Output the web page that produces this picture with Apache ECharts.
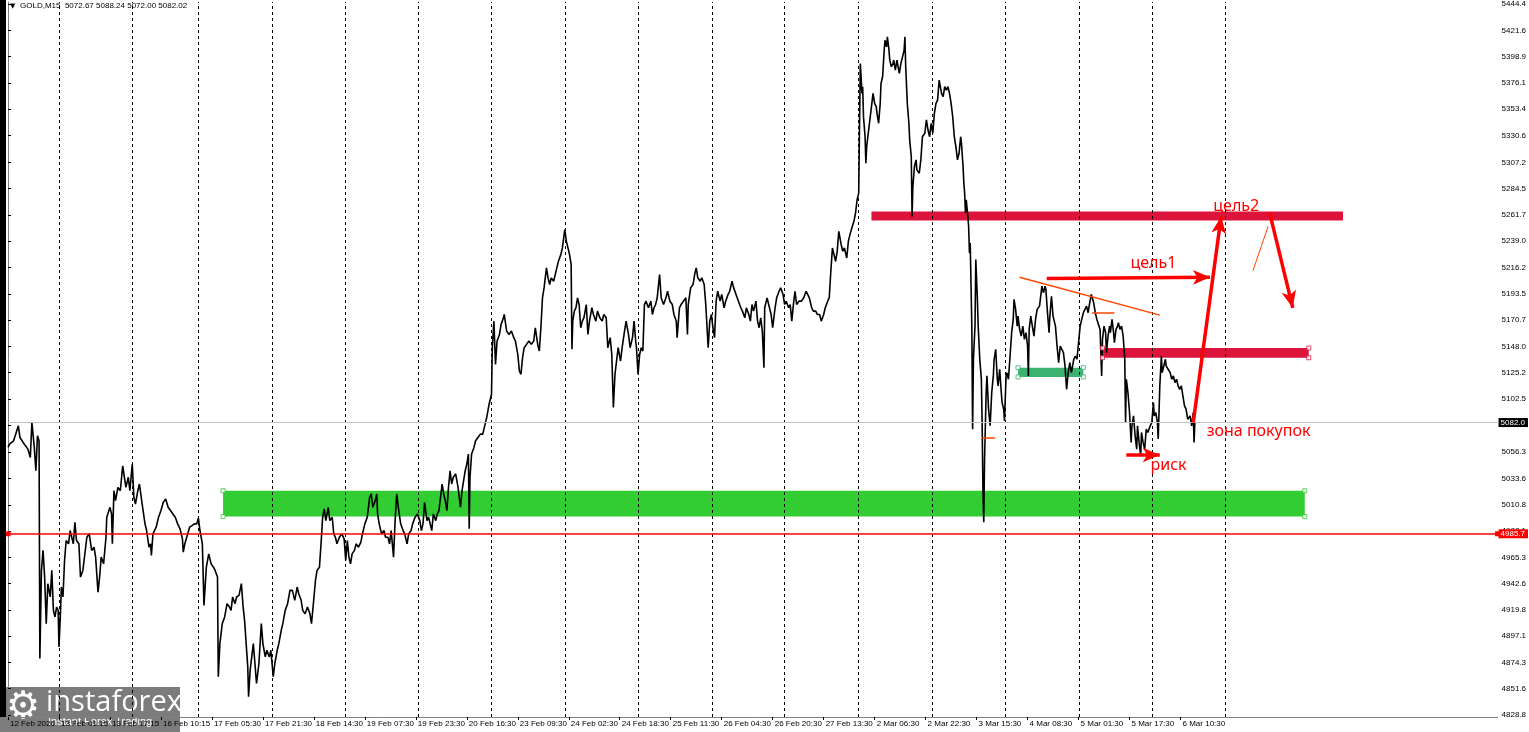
<!DOCTYPE html>
<html><head><meta charset="utf-8">
<script src="https://cdn.jsdelivr.net/npm/echarts@6/dist/echarts.min.js"></script>
<style>html,body{margin:0;padding:0;background:#fff}#c{width:1529px;height:732px}</style>
</head><body><div id="c"></div>
<script>
// ---- DATA (x = M15 bar index from 12 Feb, y = price) ----
const xLabelBars = [0,64,128,192,256,320,384,448,512,576,640,704,768,832,896,960,1024,1088,1152,1216,1280,1344,1408,1472];
const xLabels = ["12 Feb 2026","13 Feb 01:15","13 Feb 17:15","16 Feb 10:15","17 Feb 05:30","17 Feb 21:30","18 Feb 14:30","19 Feb 07:30","19 Feb 23:30","20 Feb 16:30","23 Feb 09:30","24 Feb 02:30","24 Feb 18:30","25 Feb 11:30","26 Feb 04:30","26 Feb 20:30","27 Feb 13:30","2 Mar 06:30","2 Mar 22:30","3 Mar 15:30","4 Mar 08:30","5 Mar 01:30","5 Mar 17:30","6 Mar 10:30"];
const yTicks = [5444.4,5421.6,5398.9,5376.1,5353.4,5330.6,5307.2,5284.5,5261.7,5239.0,5216.2,5193.5,5170.7,5148.0,5125.2,5102.5,5079.7,5056.3,5033.6,5010.8,4988.1,4965.3,4942.6,4919.8,4897.1,4874.3,4851.6,4828.8];
const daySeparators = [64,156,239,332,423,515,607,699,791,884,975,1068,1160,1252,1345,1436,1528];
const priceSeries = [
[0,5060.5],[2,5063.3],[7,5066.2],[11,5074.9],[13,5079.2],[15,5069.1],[19,5064.8],[21,5063.3],[25,5059.0],[28,5051.8],[30,5082.1],[33,5060.5],[35,5040.3],[37,5070.5],[39,5066.2],[40,4877.7],[42,4954.0],[44,4971.3],[46,4948.2],[48,4907.9],[50,4942.5],[53,4931.0],[55,4954.0],[57,4919.4],[59,4913.7],[61,4922.3],[63,4919.4],[64,4887.8],[66,4919.4],[67,4939.6],[69,4931.0],[71,4962.6],[73,4979.9],[76,4977.0],[78,4988.5],[82,4977.0],[84,4995.7],[86,4979.9],[89,4977.0],[91,4948.2],[94,4954.0],[96,4965.5],[99,4982.7],[102,4985.6],[105,4971.3],[108,4974.1],[110,4965.5],[113,4935.2],[115,4948.2],[117,4965.5],[120,4959.7],[123,4982.7],[124,5000.0],[128,5008.6],[130,5002.9],[131,4977.0],[133,5023.0],[135,5014.4],[138,5025.9],[141,5023.0],[144,5044.6],[148,5025.9],[151,5034.6],[153,5023.0],[156,5046.1],[158,5017.3],[160,5011.5],[163,5023.0],[165,5028.8],[167,5030.2],[169,5008.6],[172,4994.3],[174,4988.5],[177,4974.1],[179,4977.0],[180,4966.9],[182,4985.6],[186,4991.4],[189,5000.0],[192,5005.8],[195,5013.0],[198,5015.8],[201,5008.6],[204,5005.8],[207,5002.9],[210,5000.0],[213,4994.3],[216,4989.9],[219,4981.3],[220,4969.8],[222,4977.0],[225,4984.2],[228,4991.4],[231,4992.8],[234,4994.3],[237,4994.3],[239,4999.4],[241,4988.5],[244,4977.0],[246,4923.7],[249,4956.8],[252,4968.3],[255,4959.7],[258,4956.8],[260,4954.0],[263,4948.2],[264,4861.9],[266,4890.6],[269,4907.9],[272,4913.7],[275,4925.2],[278,4922.3],[280,4919.4],[282,4931.0],[285,4925.2],[287,4931.0],[290,4932.4],[293,4942.5],[295,4923.7],[297,4910.8],[299,4890.6],[301,4870.5],[302,4844.6],[304,4867.6],[306,4879.1],[308,4890.6],[310,4873.4],[312,4856.1],[315,4873.4],[318,4907.9],[320,4890.6],[323,4879.1],[325,4884.9],[328,4879.1],[330,4884.9],[333,4861.9],[335,4873.4],[338,4884.9],[340,4890.6],[343,4902.1],[345,4907.9],[348,4919.4],[351,4925.2],[354,4936.7],[357,4936.7],[360,4928.1],[363,4939.6],[365,4933.8],[368,4928.1],[370,4919.4],[373,4916.5],[376,4922.3],[379,4916.5],[381,4907.9],[383,4922.3],[386,4945.3],[388,4954.0],[391,4956.8],[393,4977.0],[395,5000.0],[397,5007.2],[399,4997.1],[402,5008.6],[404,4997.1],[407,5000.0],[409,4985.6],[411,4982.7],[413,4977.0],[416,4982.7],[419,4985.6],[422,4981.3],[424,4962.6],[426,4979.9],[428,4965.5],[430,4959.7],[432,4968.3],[435,4971.3],[437,4977.0],[440,4974.1],[443,4978.4],[445,4985.6],[448,4994.3],[451,5000.0],[454,5017.3],[456,5020.2],[458,5008.6],[461,5014.4],[463,5020.2],[464,5002.9],[466,4994.3],[469,4985.6],[472,4988.5],[474,4982.7],[477,4982.7],[479,4977.0],[481,4988.5],[484,4965.5],[486,4997.1],[488,5020.2],[490,5008.6],[493,4994.3],[496,4988.5],[498,4985.6],[501,4977.0],[503,4985.6],[506,4988.5],[508,4994.3],[511,5000.0],[514,5002.9],[517,4997.1],[519,4988.5],[521,4994.3],[523,5013.0],[526,4997.1],
[528,5000.1],[530,4994.3],[532,4988.5],[534,5002.9],[537,4997.1],[539,5002.9],[541,5005.8],[543,5017.3],[545,5028.8],[547,5020.2],[549,5014.4],[551,5005.8],[553,5025.9],[555,5040.3],[557,5028.8],[559,5034.6],[562,5037.5],[565,5025.9],[568,5008.7],[570,5023.1],[572,5031.7],[574,5040.3],[576,5046.1],[578,5054.7],[579,4990.0],[580,5034.6],[582,5054.7],[585,5060.5],[587,5066.3],[590,5069.1],[593,5072.0],[596,5072.0],[598,5077.8],[601,5086.4],[604,5097.9],[607,5106.5],[608,5146.8],[610,5169.8],[612,5132.4],[614,5152.6],[617,5158.3],[619,5166.9],[622,5172.7],[623,5175.6],[626,5161.2],[629,5158.3],[632,5161.2],[635,5155.5],[637,5152.6],[640,5141.1],[642,5126.7],[644,5123.8],[646,5138.2],[648,5146.8],[651,5149.7],[654,5152.6],[657,5149.7],[660,5152.6],[662,5164.1],[665,5149.7],[667,5143.9],[669,5164.1],[671,5190.0],[673,5198.6],[676,5215.9],[678,5207.3],[680,5201.5],[682,5207.3],[685,5204.4],[687,5210.1],[689,5215.9],[691,5221.6],[694,5227.4],[696,5233.2],[699,5249.0],[701,5238.9],[703,5233.2],[705,5227.4],[707,5218.8],[708,5145.4],[709,5169.8],[711,5178.5],[713,5181.4],[715,5190.0],[717,5184.2],[719,5164.1],[721,5169.8],[723,5172.7],[726,5184.2],[728,5158.3],[730,5169.8],[733,5181.4],[735,5175.6],[738,5169.8],[740,5178.5],[743,5172.7],[746,5169.8],[748,5175.6],[751,5172.7],[753,5146.8],[756,5155.5],[758,5141.1],[760,5095.0],[762,5123.8],[764,5135.3],[766,5146.8],[769,5135.3],[771,5146.8],[774,5161.2],[776,5169.8],[779,5158.3],[781,5146.8],[784,5155.5],[786,5169.8],[788,5152.6],[789,5146.8],[791,5123.8],[793,5141.1],[795,5146.8],[797,5143.9],[799,5184.2],[801,5187.1],[804,5181.4],[807,5187.1],[809,5175.6],[811,5181.4],[813,5184.2],[815,5190.0],[818,5210.1],[820,5190.0],[823,5184.2],[826,5190.0],[828,5195.7],[831,5187.1],[834,5184.2],[836,5175.6],[839,5169.8],[840,5155.5],[843,5181.4],[845,5184.2],[848,5187.1],[851,5190.0],[853,5158.3],[854,5184.2],[857,5198.6],[860,5201.5],[862,5210.1],[864,5215.9],[866,5207.3],[869,5204.4],[871,5207.3],[874,5201.5],[876,5184.2],[879,5146.8],[881,5169.8],[883,5175.6],[885,5164.1],[887,5155.5],[889,5187.1],[891,5195.7],[894,5187.1],[896,5192.9],[899,5181.4],[901,5187.1],[904,5192.9],[906,5195.7],[909,5204.4],[911,5198.6],[914,5192.9],[917,5187.1],[920,5181.4],[922,5178.5],[925,5172.7],[927,5181.4],[930,5175.6],[932,5169.8],[934,5184.2],[936,5178.5],[939,5187.1],[941,5169.8],[943,5164.1],[945,5172.7],[947,5161.2],[949,5129.5],[950,5181.4],[953,5190.0],[955,5184.2],[958,5175.6],[960,5164.1],[963,5181.4],[965,5190.0],[968,5195.7],[970,5198.6],[973,5192.9],[975,5184.2],[977,5187.1],[980,5181.4],[982,5184.2],[984,5169.8],[986,5184.2],[988,5195.7],[990,5184.2],[993,5187.1],[996,5187.1],[999,5190.0],[1002,5195.7],[1004,5197.2],[1006,5190.0],[1009,5181.4],[1011,5178.5],[1014,5178.5],[1016,5175.6],[1019,5175.6],[1021,5169.8],[1024,5175.6],[1026,5181.4],[1029,5187.1],[1031,5190.0],[1033,5213.0],[1035,5233.2],[1037,5227.4],[1039,5221.6],[1041,5230.3],[1043,5247.5],[1046,5236.0],[1048,5230.3],[1050,5233.2],[1053,5224.5],[1055,5238.9],[1057,5244.7],[1060,5251.9],[1062,5256.2],
[1064,5263.4],[1066,5274.9],[1068,5280.6],[1069,5338.2],[1070,5392.9],[1071,5381.4],[1072,5367.0],[1073,5372.8],[1074,5346.8],[1076,5329.5],[1077,5306.6],[1078,5320.9],[1080,5332.5],[1081,5338.2],[1083,5349.7],[1085,5361.2],[1086,5367.0],[1088,5358.4],[1090,5355.5],[1091,5349.7],[1093,5341.1],[1095,5358.4],[1096,5375.6],[1098,5381.4],[1100,5404.4],[1101,5413.0],[1103,5407.3],[1104,5415.9],[1106,5404.4],[1107,5395.8],[1109,5390.0],[1111,5392.9],[1112,5395.8],[1114,5387.1],[1116,5395.8],[1119,5384.3],[1121,5392.9],[1123,5398.6],[1125,5404.4],[1126,5415.9],[1127,5390.0],[1129,5358.4],[1131,5341.1],[1132,5326.7],[1134,5312.3],[1135,5260.5],[1136,5286.4],[1138,5303.7],[1140,5309.4],[1141,5300.8],[1144,5297.9],[1146,5309.4],[1148,5329.5],[1151,5332.5],[1153,5344.0],[1155,5335.3],[1157,5329.5],[1159,5341.1],[1161,5332.5],[1163,5349.7],[1165,5358.4],[1167,5361.2],[1169,5378.5],[1172,5367.0],[1174,5364.1],[1176,5372.8],[1178,5369.9],[1180,5372.8],[1182,5367.0],[1184,5358.4],[1186,5346.8],[1188,5329.5],[1190,5320.9],[1192,5309.4],[1194,5315.2],[1196,5329.5],[1197,5323.8],[1199,5303.7],[1200,5289.3],[1201,5280.6],[1202,5263.4],[1203,5274.9],[1205,5260.5],[1206,5251.9],[1207,5228.8],[1208,5237.5],[1210,5165.5],[1211,5076.3],[1212,5136.8],[1214,5165.5],[1215,5223.1],[1217,5188.6],[1218,5165.5],[1220,5136.8],[1222,5119.5],[1223,5079.2],[1224,5021.6],[1225,4995.7],[1226,5050.4],[1228,5108.0],[1229,5122.4],[1231,5093.6],[1233,5079.2],[1235,5108.0],[1237,5122.4],[1238,5136.8],[1240,5145.4],[1242,5119.5],[1243,5113.7],[1245,5128.1],[1247,5108.0],[1248,5099.3],[1250,5093.6],[1251,5083.5],[1253,5122.4],[1254,5125.2],[1256,5119.5],[1258,5139.6],[1260,5159.8],[1262,5171.3],[1263,5188.6],[1265,5180.0],[1267,5165.5],[1268,5174.2],[1270,5162.7],[1272,5156.9],[1274,5165.5],[1276,5154.0],[1278,5159.8],[1280,5148.3],[1281,5122.4],[1282,5162.7],[1284,5174.2],[1286,5165.5],[1288,5156.9],[1290,5171.3],[1292,5180.0],[1295,5182.8],[1297,5194.3],[1298,5200.1],[1300,5194.3],[1302,5200.1],[1303,5197.2],[1305,5177.1],[1307,5159.8],[1308,5174.2],[1310,5191.4],[1312,5174.2],[1315,5165.5],[1317,5148.3],[1319,5133.9],[1321,5148.3],[1323,5148.3],[1325,5142.5],[1327,5131.0],[1329,5110.8],[1331,5125.2],[1333,5133.9],[1335,5125.2],[1338,5136.8],[1340,5139.6],[1342,5136.8],[1344,5151.1],[1346,5165.5],[1348,5171.3],[1350,5177.1],[1352,5180.0],[1354,5182.8],[1356,5177.1],[1358,5185.7],[1360,5192.9],[1363,5185.7],[1365,5177.1],[1367,5171.3],[1369,5171.3],[1371,5162.7],[1373,5122.4],[1374,5154.0],[1376,5165.5],[1378,5159.8],[1379,5142.5],[1381,5156.9],[1383,5165.5],[1384,5159.8],[1386,5171.3],[1388,5159.8],[1389,5151.1],[1391,5162.7],[1393,5165.5],[1394,5168.4],[1396,5162.7],[1398,5165.5],[1400,5156.9],[1402,5136.8],[1403,5082.1],[1404,5119.5],[1406,5108.0],[1408,5090.7],[1410,5064.8],[1411,5079.2],[1413,5087.8],[1415,5070.6],[1417,5059.0],[1418,5079.2],[1420,5064.8],[1422,5053.3],[1423,5073.4],[1425,5064.8],[1427,5059.0],[1429,5076.3],[1431,5073.4],[1434,5079.2],[1436,5082.1],[1438,5099.3],[1439,5087.8],[1441,5090.7],[1443,5082.1],[1444,5067.7],[1446,5113.7],[1448,5139.6],[1449,5125.2],[1451,5131.0],[1453,5136.8],[1454,5131.0],[1456,5131.0],[1459,5125.2],[1461,5119.5],[1463,5122.4],[1465,5116.6],[1467,5119.5],[1469,5113.7],[1471,5110.8],[1473,5113.7],[1475,5105.1],[1477,5096.5],[1479,5093.6],[1481,5084.9],[1484,5087.8],[1486,5079.2],[1488,5090.7],[1489,5064.8],[1490,5082.0]
];
const lastPrice = 5082.02;
const levelPrice = 4985.7;
// zones: [barFrom, barTo, priceLow, priceHigh]
const greenZone = [270, 1628, 5000.6, 5023.0];
const smallGreenZone = [1268, 1350, 5121.5, 5129.5];
const topRedZone = [1084, 1676, 5257.0, 5264.8];
const lowRedZone = [1374, 1633, 5138.1, 5146.5];
// lines / arrows: [[bar, price],[bar, price]]
const trendLine = [[1270, 5207.8], [1446, 5175.0]];
const target1Arrow = [[1304, 5206.7], [1509, 5207.8]];
const buyArrow = [[1488, 5082.0], [1523, 5260.5]];
const downArrow = [[1584, 5263.3], [1613, 5181.3]];
const thinStroke = [[1563, 5213.6], [1582, 5251.9]];
const riskArrow = [[1404, 5053.9], [1446, 5053.9]];
const smallMarks = [[[1223, 5068.8], [1239, 5068.8]], [[1361, 5176.7], [1389, 5176.7]]];
// annotation texts: [text, bar, price]
const notes = [["цель2", 1542, 5269.1], ["цель1", 1438, 5219.9], ["зона покупок", 1570, 5074.0], ["риск", 1457, 5044.7]];
const header = "GOLD,M15  5072.67 5088.24 5072.00 5082.02";

// ---- CHART ----
const chart = echarts.init(document.getElementById('c'), null, {renderer: 'canvas'});
const FONT = 'Liberation Sans';
function area(z, color) {
  return [{coord: [z[0], z[3]], itemStyle: {color: color}}, {coord: [z[1], z[2]]}];
}
function seg(s, w, color, arrow) {
  return [
    {coord: s[0], symbol: 'none', lineStyle: {width: w, color: color, type: 'solid'}},
    {coord: s[1], symbol: arrow ? 'arrow' : 'none', symbolSize: arrow ? [11, 17] : 0}
  ];
}
const handles = [];
function corners(z, color) {
  handles.push({value: [z[0], z[3]], itemStyle: {borderColor: color}});
  handles.push({value: [z[0], z[2]], itemStyle: {borderColor: color}});
  handles.push({value: [z[1], z[3]], itemStyle: {borderColor: color}});
  handles.push({value: [z[1], z[2]], itemStyle: {borderColor: color}});
}
corners(greenZone, '#32CD32');
corners(smallGreenZone, '#3CB371');
corners(lowRedZone, '#DC143C');

const levelLabel = (txt, bg) => ({show: true, position: 'end', distance: 1, formatter: txt, backgroundColor: bg, color: '#fff', fontSize: 8, padding: [1, 3, 0, 2], fontFamily: FONT});

const option = {
  animation: false,
  backgroundColor: '#ffffff',
  textStyle: {fontFamily: FONT},
  grid: {left: 8, right: 27, top: 0, bottom: 15, containLabel: false},
  xAxis: {
    type: 'value', min: 0, max: 1870,
    axisLine: {show: true, lineStyle: {color: '#808080', width: 1}},
    axisTick: {show: true, customValues: xLabelBars, length: 3, lineStyle: {color: '#000'}},
    axisLabel: {show: true, customValues: xLabelBars, align: 'left', margin: 3, fontSize: 8, color: '#000', fontFamily: FONT,
      padding: [0, 0, 0, 2],
      formatter: function (v) { const i = xLabelBars.indexOf(Math.round(v)); return i >= 0 ? xLabels[i] : ''; }},
    splitLine: {show: false}
  },
  yAxis: {
    type: 'value', position: 'right', min: 4827.07, max: 5446.13, scale: true,
    axisLine: {show: true, lineStyle: {color: '#808080', width: 1}},
    axisTick: {show: true, customValues: yTicks, length: 3, lineStyle: {color: '#000'}},
    axisLabel: {show: true, customValues: yTicks, margin: 4, fontSize: 8, color: '#000', fontFamily: FONT,
      formatter: function (v) { return v.toFixed(1); }},
    splitLine: {show: false}
  },
  series: [
    { // day separators and zones (background)
      type: 'line', data: [], z: 1, silent: true,
      markLine: {silent: true, symbol: 'none', label: {show: false},
        lineStyle: {color: '#000', width: 1, type: [3, 3]},
        data: daySeparators.map(b => ({xAxis: b}))},
      markArea: {silent: true, data: [
        area(greenZone, '#32CD32'), area(smallGreenZone, '#3CB371'),
        area(topRedZone, '#DC143C'), area(lowRedZone, '#DC143C')
      ]}
    },
    { // current price line
      type: 'line', data: [], z: 2, silent: true,
      markLine: {silent: true, symbol: 'none',
        lineStyle: {color: '#C0C0C0', width: 1, type: 'solid'},
        label: levelLabel(lastPrice.toFixed(1), '#000'),
        data: [{yAxis: lastPrice}]}
    },
    { // red horizontal level
      type: 'line', data: [], z: 2, silent: true,
      markLine: {silent: true, symbol: ['rect', 'rect'], symbolSize: 5,
        lineStyle: {color: '#FF0000', width: 1.5, type: 'solid'},
        label: levelLabel(levelPrice.toFixed(1), '#FF0000'),
        data: [{yAxis: levelPrice}]}
    },
    { // price
      name: 'GOLD', type: 'line', z: 3, data: priceSeries, showSymbol: false, symbol: 'none',
      lineStyle: {color: '#000', width: 1.6}, clip: true
    },
    { // annotations
      type: 'line', data: [], z: 5, silent: true,
      markLine: {silent: true, symbol: 'none', label: {show: false}, data: [
        seg(trendLine, 1.5, '#FF4500', false),
        seg(thinStroke, 1, '#FF4500', false),
        seg(target1Arrow, 3.5, '#FF0000', true),
        seg(buyArrow, 3.5, '#FF0000', true),
        seg(downArrow, 3.5, '#FF0000', true),
        seg(riskArrow, 3.5, '#FF0000', true),
        seg(smallMarks[0], 1.5, '#FF4500', false),
        seg(smallMarks[1], 1.5, '#FF4500', false)
      ]},
      markPoint: {silent: true, symbol: 'circle', symbolSize: 0,
        data: notes.map(n => ({coord: [n[1], n[2]], label: {show: true, position: 'inside', formatter: n[0], color: '#FF0000', fontSize: 16, fontFamily: 'Noto Sans'}}))}
    },
    { // object handles
      type: 'scatter', z: 6, silent: true, symbol: 'rect', symbolSize: 4,
      itemStyle: {color: '#fff', borderWidth: 1},
      data: handles
    }
  ],
  graphic: [
    {type: 'rect', left: 0, top: 0, shape: {width: 6, height: 717}, style: {fill: '#000'}, z: 100},
    {type: 'text', left: 10, top: 3, style: {text: '▼', fill: '#000', font: '7px "DejaVu Sans"'}, z: 100},
    {type: 'text', left: 20, top: 2, style: {text: header, fill: '#000', font: '8px "Liberation Sans"'}, z: 100},
    {type: 'group', left: 0, top: 687, z: 100, children: [
      {type: 'rect', shape: {x: 0, y: 0, width: 180, height: 45}, style: {fill: 'rgba(95,95,95,0.82)'}},
      {type: 'text', x: 6, y: 2, style: {text: '⚙', fill: '#fff', font: '38px "DejaVu Sans"'}},
      {type: 'text', x: 46, y: 1, style: {text: 'instaforex', fill: '#fff', font: '29px "Open Sans"'}},
      {type: 'text', x: 48, y: 29, style: {text: 'Instant Forex Trading', fill: '#fff', font: '11px "Liberation Sans"'}}
    ]}
  ]
};
chart.setOption(option);
</script></body></html>
